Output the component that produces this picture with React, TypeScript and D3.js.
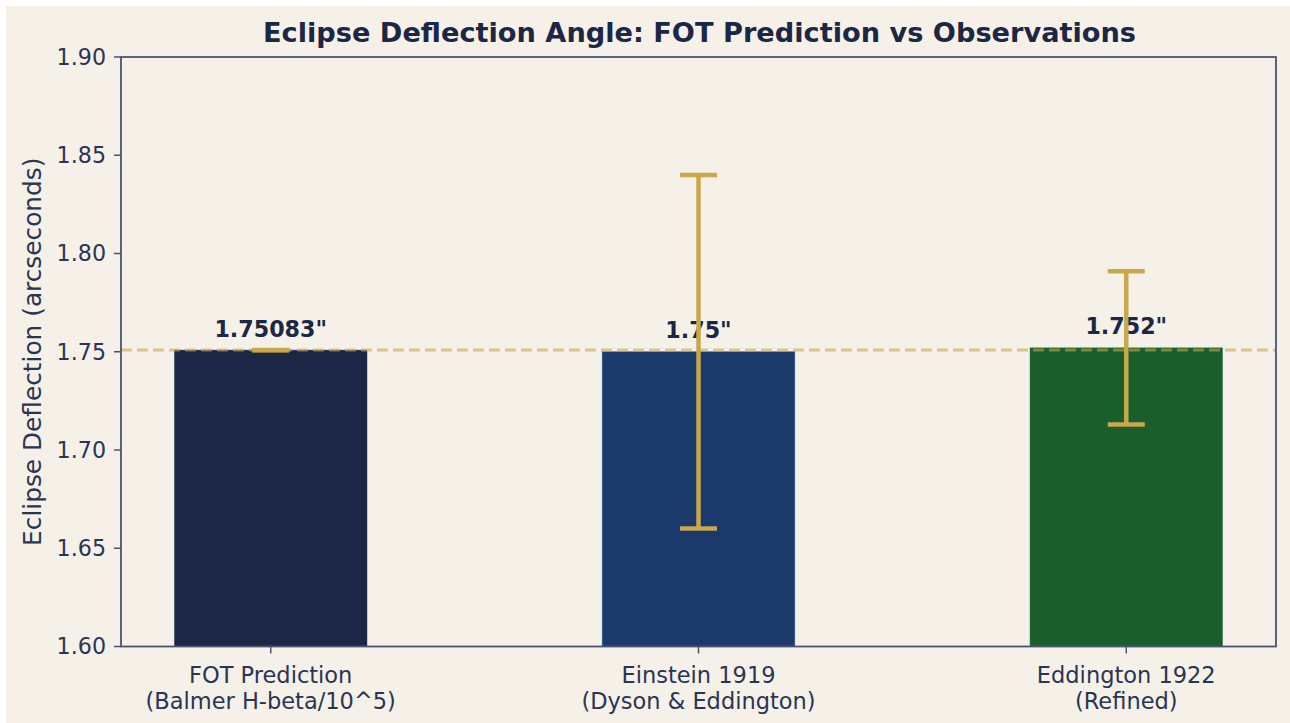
import React from "react";
import * as d3 from "d3";

const categories = ["FOT Prediction\n(Balmer H-beta/10^5)", "Einstein 1919\n(Dyson & Eddington)", "Eddington 1922\n(Refined)"];
const values = [1.75083, 1.75, 1.752];
const errors = [0.0001, 0.09, 0.039];
const valueLabels = ['1.75083"', '1.75"', '1.752"'];
const barColors = ["#1b2744", "#1b3a6b", "#1b5e2e"];
const yTicks = [1.6, 1.65, 1.7, 1.75, 1.8, 1.85, 1.9];
const refLine = 1.75083;

const W = 1290, H = 723;
const left = 121, right = 1276, top = 57, bottom = 646.5;
const navy = "#1b2744";
const gold = "#c9a84c";
const font = "DejaVu Sans, sans-serif";

export default function App() {
  const x = d3.scaleLinear().domain([-0.35, 2.35]).range([left, right]);
  const y = d3.scaleLinear().domain([1.6, 1.9]).range([bottom, top]);
  const bw = x(0.45) - x(0);
  return (
    <svg width={W} height={H} style={{ position: "absolute", left: 0, top: 0 }} fontFamily={font}>
      <rect x={0} y={0} width={W} height={H} fill="#ffffff" />
      <rect x={6} y={6} width={W - 6} height={H - 6} fill="#f5f0e8" />
      {values.map((v, i) => (
        <rect key={"b" + i} x={x(i) - bw / 2} y={y(v)} width={bw} height={y(1.6) - y(v)} fill={barColors[i]} stroke={d3.color(barColors[i])!.brighter(0.6).formatHex()} strokeWidth={0.8} strokeOpacity={0.6} />
      ))}
      <line x1={left} x2={right} y1={y(refLine)} y2={y(refLine)} stroke={gold} strokeOpacity={0.6} strokeWidth={3} strokeDasharray="11,5" />
      {values.map((v, i) => (
        <text key={"l" + i} x={x(i)} y={y(v) - 13.5} textAnchor="middle" fontWeight="bold" fontSize={22.2} fill={navy}>{valueLabels[i]}</text>
      ))}
      {values.map((v, i) => (
        <g key={"e" + i} stroke={gold} strokeWidth={4.5}>
          <line x1={x(i)} x2={x(i)} y1={y(v + errors[i])} y2={y(v - errors[i])} />
          <line x1={x(i) - 18.5} x2={x(i) + 18.5} y1={y(v + errors[i])} y2={y(v + errors[i])} />
          <line x1={x(i) - 18.5} x2={x(i) + 18.5} y1={y(v - errors[i])} y2={y(v - errors[i])} />
        </g>
      ))}
      <rect x={left} y={top} width={right - left} height={bottom - top} fill="none" stroke="#4a5373" strokeWidth={1.8} />
      {yTicks.map((t) => (
        <g key={"yt" + t}>
          <line x1={left - 7} x2={left} y1={y(t)} y2={y(t)} stroke="#4a5373" strokeWidth={1.5} />
          <text x={left - 15} y={y(t)} dy="0.36em" textAnchor="end" fontSize={22.2} fill="#2a3552">{d3.format(".2f")(t)}</text>
        </g>
      ))}
      {categories.map((c, i) => (
        <g key={"xt" + i}>
          <line x1={x(i)} x2={x(i)} y1={bottom} y2={bottom + 7} stroke="#4a5373" strokeWidth={1.5} />
          {c.split("\n").map((ln, j) => (
            <text key={j} x={x(i)} y={683 + j * 25.5} textAnchor="middle" fontSize={22.5} fill="#2a3552">{ln}</text>
          ))}
        </g>
      ))}
      <text transform={`translate(41,${(top + bottom) / 2}) rotate(-90)`} textAnchor="middle" fontSize={24.8} fill="#2a3552">Eclipse Deflection (arcseconds)</text>
      <text x={(left + right) / 2 + 1} y={42} textAnchor="middle" fontWeight="bold" fontSize={27.2} fill={navy}>Eclipse Deflection Angle: FOT Prediction vs Observations</text>
    </svg>
  );
}
